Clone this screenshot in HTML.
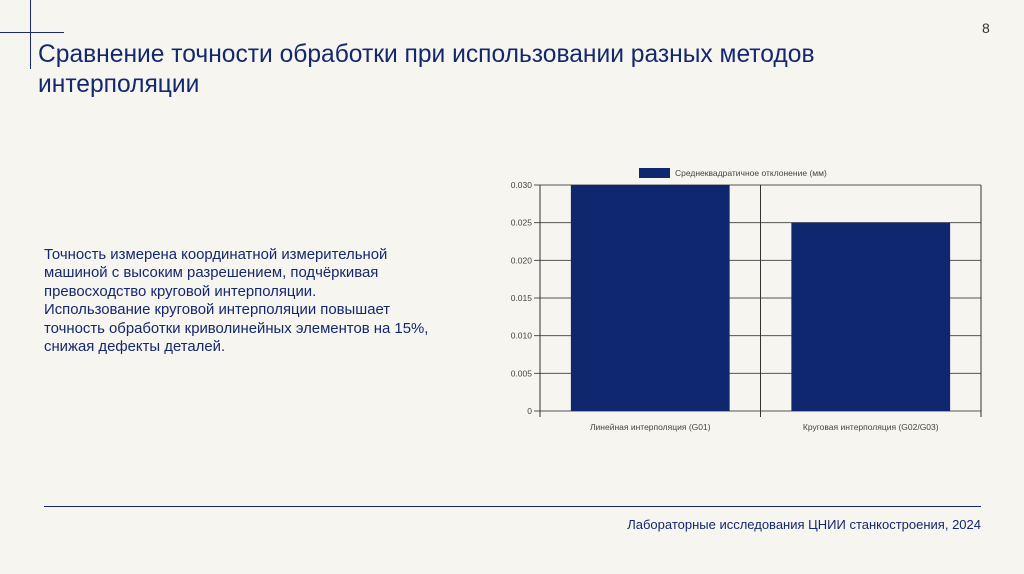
<!DOCTYPE html>
<html><head><meta charset="utf-8"><style>
body{margin:0;width:1024px;height:574px;background:#f7f5f0;position:relative;overflow:hidden;font-family:"Liberation Sans",sans-serif;}
.abs{position:absolute}
</style></head><body>
<div class="abs" style="left:30px;top:0;width:1px;height:69px;background:#1a2a6c"></div>
<div class="abs" style="left:0;top:32px;width:64px;height:1px;background:#1a2a6c"></div>
<div class="abs" style="left:982px;top:20px;font-size:14px;color:#333">8</div>
<div class="abs" style="left:38px;top:40px;font-size:24.6px;line-height:30px;color:#14286e">Сравнение точности обработки при использовании разных методов<br>интерполяции</div>
<div class="abs" style="left:44px;top:246px;font-size:14.9px;line-height:18.4px;color:#14286e">Точность измерена координатной измерительной<br>машиной с высоким разрешением, подчёркивая<br>превосходство круговой интерполяции.<br>Использование круговой интерполяции повышает<br>точность обработки криволинейных элементов на 15%,<br>снижая дефекты деталей.</div>
<svg class="abs" style="left:0;top:0" width="1024" height="574" id="chart"></svg>
<div class="abs" style="left:44px;top:506px;width:937px;height:1px;background:#14286e"></div>
<div class="abs" style="right:43px;top:517px;font-size:13px;color:#14286e">Лабораторные исследования ЦНИИ станкостроения, 2024</div>
<script>
const categories=["Линейная интерполяция (G01)","Круговая интерполяция (G02/G03)"];
const values=[0.030,0.025];
const ticks=[0,0.005,0.010,0.015,0.020,0.025,0.030];
const tickLabels=["0","0.005","0.010","0.015","0.020","0.025","0.030"];
const seriesName="Среднеквадратичное отклонение (мм)";
const svg=document.getElementById('chart');const NS="http://www.w3.org/2000/svg";
const x0=540,x1=981,yTop=185,yBot=411,ymax=0.030;
const y=v=>yBot-(v/ymax)*(yBot-yTop);
const cw=(x1-x0)/categories.length;
function mk(t,a){const e=document.createElementNS(NS,t);for(const k in a)e.setAttribute(k,a[k]);svg.appendChild(e);return e;}
ticks.forEach((t,i)=>{
 const g=mk('line',{x1:x0-6,x2:x1,y1:y(t),y2:y(t),stroke:'#555','stroke-width':1});
 
 
 const l=mk('text',{x:x0-8,y:y(t)+3,'text-anchor':'end','font-size':8.5,fill:'#444','font-family':'Liberation Sans'});
 l.textContent=tickLabels[i];
 
 
});
for(let i=0;i<=categories.length;i++){
 const v=mk('line',{x1:x0+i*cw,x2:x0+i*cw,y1:yTop,y2:yBot+6,stroke:'#333','stroke-width':1});
 
 
}
categories.forEach((c,i)=>{
 const bw=cw*0.72,bx=x0+i*cw+(cw-bw)/2;
 const r=mk('rect',{x:bx,y:y(values[i]),width:bw,height:yBot-y(values[i]),fill:'#0f276e'});
 
 
 const t=mk('text',{x:x0+i*cw+cw/2,y:430,'text-anchor':'middle','font-size':8.5,fill:'#444','font-family':'Liberation Sans'});
 t.textContent=c;
 
 
});
const lb=mk('rect',{x:639,y:168,width:31,height:10,fill:'#0f276e'});


const lt=mk('text',{x:675,y:176,'font-size':8.5,fill:'#444','font-family':'Liberation Sans'});
lt.textContent=seriesName;


</script>
</body></html>
